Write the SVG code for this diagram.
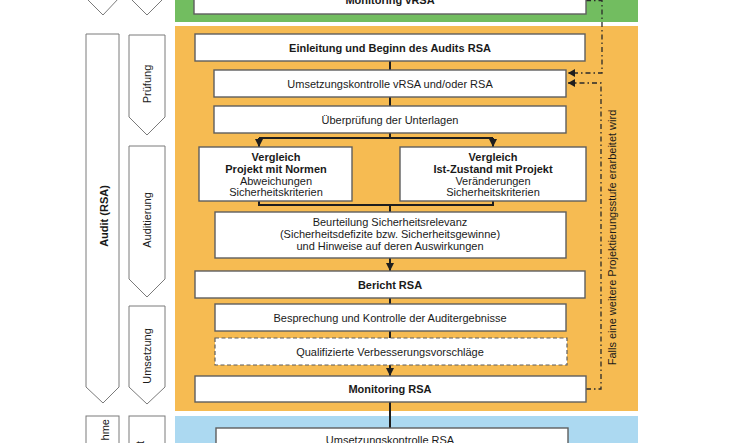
<svg xmlns="http://www.w3.org/2000/svg" width="750" height="443" viewBox="0 0 750 443">
<style>
text{font-family:"Liberation Sans",Arial,sans-serif;font-size:11px;fill:#1a1a1a}
.b{font-weight:bold}
.c{text-anchor:middle}
.box{fill:#fff;stroke:#5e5e5e;stroke-width:1.4}
.dbox{fill:#fff;stroke:#5e5e5e;stroke-width:1.2;stroke-dasharray:4 2.5}
.pent{fill:#fff;stroke:#7a7a7a;stroke-width:1}
.ln{fill:none;stroke:#1e1e1e;stroke-width:2}
.dd{fill:none;stroke:#2a2a2a;stroke-width:1.3;stroke-dasharray:5 3 1.5 3}
</style>
<defs>
<marker id="ah" markerUnits="userSpaceOnUse" markerWidth="9" markerHeight="8" refX="8" refY="4" orient="auto">
<path d="M0,0 L8,4 L0,8 z" fill="#1e1e1e"/>
</marker>
<marker id="ah2" markerUnits="userSpaceOnUse" markerWidth="8" markerHeight="8" refX="7" refY="4" orient="auto">
<path d="M0,0 L7,4 L0,8 z" fill="#1e1e1e"/>
</marker>
</defs>

<!-- phase backgrounds -->
<rect x="175" y="-10" width="463" height="32" fill="#72bd60"/>
<rect x="175" y="26" width="463" height="385" fill="#f6bb52"/>
<rect x="175" y="416" width="463" height="40" fill="#acd9f1"/>

<!-- left phase arrows -->
<g id="phase-top-left"><polygon class="pent" points="86,-20 119,-20 119,-2 103,15 86,-2"/></g>
<g id="phase-top-right"><polygon class="pent" points="129,-20 165,-20 165,-3 147,15 129,-3"/></g>
<g id="phase-audit">
<polygon class="pent" points="86,34 119,34 119,387 103,403 86,387"/>
<text class="b c" transform="translate(104,216) rotate(-90)" x="0" y="4">Audit (RSA)</text>
</g>
<g id="phase-pruefung">
<polygon class="pent" points="129,35 165,35 165,117 147,135 129,117"/>
<text class="c" transform="translate(147,84) rotate(-90)" x="0" y="4">Prüfung</text>
</g>
<g id="phase-auditierung">
<polygon class="pent" points="129,146 165,146 165,279 147,297 129,279"/>
<text class="c" transform="translate(147,220) rotate(-90)" x="0" y="4">Auditierung</text>
</g>
<g id="phase-umsetzung">
<polygon class="pent" points="129,306 165,306 165,387 147,404 129,387"/>
<text class="c" transform="translate(147,356) rotate(-90)" x="0" y="4">Umsetzung</text>
</g>
<g id="phase-bottom-left">
<rect class="pent" x="86" y="416" width="33" height="40"/>
<text transform="translate(105,419) rotate(-90)" x="0" y="4" text-anchor="end">hme</text>
</g>
<g id="phase-bottom-right">
<rect class="pent" x="129" y="416" width="36" height="40"/>
<text transform="translate(140,441) rotate(-90)" x="0" y="4" text-anchor="end">t</text>
</g>

<!-- connectors -->
<g id="connectors">
<path class="ln" d="M390,61 V70"/>
<path class="ln" d="M390,97 V106"/>
<path class="ln" d="M390,133 V138 M259,138 H493"/>
<path class="ln" d="M259,138 V147" marker-end="url(#ah)"/>
<path class="ln" d="M493,138 V147" marker-end="url(#ah)"/>
<path class="ln" d="M259,201 V205 H493 V201 M390,205 V212"/>
<path class="ln" d="M390,258 V271" marker-end="url(#ah)"/>
<path class="ln" d="M390,298 V304"/>
<path class="ln" d="M390,331 V338"/>
<path class="ln" d="M390,365 V376" marker-end="url(#ah)"/>
<path class="ln" d="M390,402 V428"/>
<path class="dd" d="M586,0.5 H602 V73 H568" marker-end="url(#ah2)"/>
<path class="dd" d="M586,389 H601 V83 H568" marker-end="url(#ah2)"/>
</g>

<!-- nodes -->
<g id="n-monitoring-vrsa">
<rect class="box" x="194" y="-14" width="392" height="28"/>
<text class="b c" x="390" y="4">Monitoring vRSA</text>
</g>
<g id="n-einleitung">
<rect class="box" x="195" y="34" width="390" height="27"/>
<text class="b c" x="390" y="51.5">Einleitung und Beginn des Audits RSA</text>
</g>
<g id="n-umsetzungskontrolle">
<rect class="box" x="214" y="70" width="352" height="27"/>
<text class="c" x="390" y="87.5">Umsetzungskontrolle vRSA und/oder RSA</text>
</g>
<g id="n-ueberpruefung">
<rect class="box" x="214" y="106" width="352" height="27"/>
<text class="c" x="390" y="123.5">Überprüfung der Unterlagen</text>
</g>
<g id="n-vergleich-normen">
<rect class="box" x="199" y="147" width="153" height="54"/>
<text class="b c" x="276" y="161">Vergleich</text>
<text class="b c" x="276" y="172.5">Projekt mit Normen</text>
<text class="c" x="276" y="184.5">Abweichungen</text>
<text class="c" x="276" y="196">Sicherheitskriterien</text>
</g>
<g id="n-vergleich-ist">
<rect class="box" x="400" y="147" width="186" height="54"/>
<text class="b c" x="493" y="161">Vergleich</text>
<text class="b c" x="493" y="172.5">Ist-Zustand mit Projekt</text>
<text class="c" x="493" y="184.5">Veränderungen</text>
<text class="c" x="493" y="196">Sicherheitskriterien</text>
</g>
<g id="n-beurteilung">
<rect class="box" x="215" y="212" width="351" height="46"/>
<text class="c" x="390" y="226">Beurteilung Sicherheitsrelevanz</text>
<text class="c" x="390" y="238">(Sicherheitsdefizite bzw. Sicherheitsgewinne)</text>
<text class="c" x="390" y="250">und Hinweise auf deren Auswirkungen</text>
</g>
<g id="n-bericht">
<rect class="box" x="195" y="271" width="390" height="27"/>
<text class="b c" x="390" y="288.5">Bericht RSA</text>
</g>
<g id="n-besprechung">
<rect class="box" x="215" y="304" width="351" height="27"/>
<text class="c" x="390" y="321.5">Besprechung und Kontrolle der Auditergebnisse</text>
</g>
<g id="n-qualifizierte">
<rect class="dbox" x="215" y="338" width="352" height="27"/>
<text class="c" x="390" y="355.5">Qualifizierte Verbesserungsvorschläge</text>
</g>
<g id="n-monitoring-rsa">
<rect class="box" x="195" y="376" width="391" height="26"/>
<text class="b c" x="390" y="393">Monitoring RSA</text>
</g>
<g id="n-umsetzungskontrolle-rsa">
<rect class="box" x="216" y="428" width="352" height="30"/>
<text class="c" x="390" y="443.5">Umsetzungskontrolle RSA</text>
</g>

<g id="note">
<text class="c" transform="translate(612,237.5) rotate(-90)" x="0" y="4">Falls eine weitere Projektierungsstufe erarbeitet wird</text>
</g>
</svg>
